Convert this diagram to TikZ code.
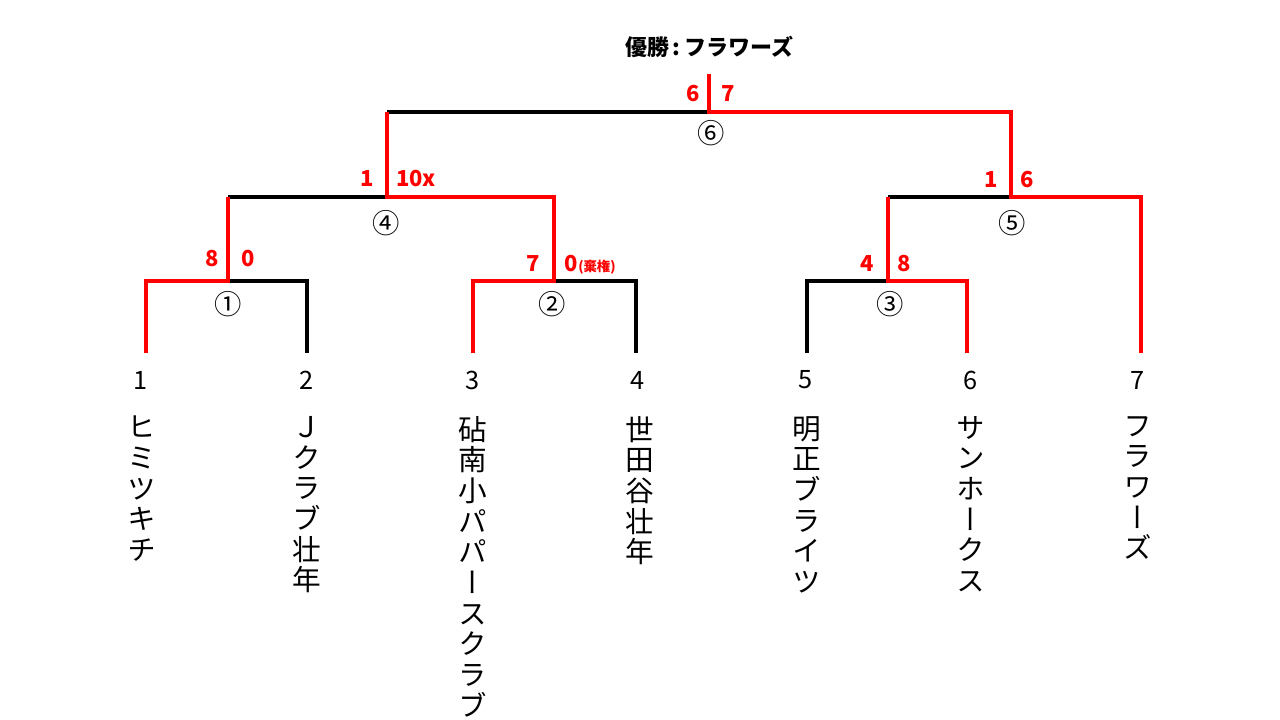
\documentclass[tikz,border=0pt]{standalone}
\usepackage{fontspec}
\newfontfamily\jp{Noto Sans CJK JP}
\newfontfamily\jpv[RawFeature=+vert]{Noto Sans CJK JP}
\begin{document}
\begin{tikzpicture}[x=0.75pt,y=-0.75pt,
  lose/.style={draw=black, line width=2.4pt},
  win/.style={draw=red, line width=2.7pt},
  score/.style={text=red, inner sep=0, font=\jp\bfseries\fontsize{16.5}{16.5}\selectfont},
  small/.style={text=red, inner sep=0, font=\jp\bfseries\fontsize{10}{10}\selectfont},
  circ/.style={inner sep=0, font=\jp\fontsize{20.5}{20.5}\selectfont},
  seed/.style={inner sep=0, font=\jp\fontsize{19}{19}\selectfont},
  team/.style={inner sep=0, anchor=north, align=center, font=\jpv\fontsize{21.5}{23}\selectfont},
  title/.style={inner sep=0, font=\jp\bfseries\fontsize{16.5}{16.5}\selectfont}]
\useasboundingbox (0,0) rectangle (1280,720);
% leaves and match points
\coordinate (t1) at (146,353);
\coordinate (t2) at (307,353);
\coordinate (t3) at (473,353);
\coordinate (t4) at (636,353);
\coordinate (t5) at (807,353);
\coordinate (t6) at (967,353);
\coordinate (t7) at (1141,353);
\coordinate (m1) at (228,281);
\coordinate (m2) at (554,281);
\coordinate (m3) at (888,281);
\coordinate (m4) at (387,197);
\coordinate (m5) at (1011,197);
\coordinate (m6) at (709,112);
\coordinate (top) at (709,74);
% losing lines
\draw[lose] (m1) -| (t2);
\draw[lose] (m2) -| (t4);
\draw[lose] (m3) -| (t5);
\draw[lose] (m1 |- m4) -- (m4);
\draw[lose] (m5) -- (m3 |- m5);
\draw[lose] (m4 |- m6) -- (m6);
% winning lines
\draw[win] (t1) |- (m1) -- (m1 |- m4);
\draw[win] (t3) |- (m2) |- (m4) -- (m4 |- m6);
\draw[win] (t6) |- (m3) -- (m3 |- m5);
\draw[win] (t7) |- (m5) |- (m6) -- (top);
% scores
\node[score] (s1a) at (212,259) {8};
\node[score] (s1b) at (248,259) {0};
\node[score] (s2a) at (533,264) {7};
\node[score] (s2b) at (571,264) {0};
\node[small, anchor=west] (s2c) at (578,267) {(棄権)};
\node[score] (s3a) at (867,264) {4};
\node[score] (s3b) at (904,264) {8};
\node[score] (s4a) at (367,179) {1};
\node[score] (s4b) at (416,179) {10x};
\node[score] (s5a) at (991,180) {1};
\node[score] (s5b) at (1027,180) {6};
\node[score] (s6a) at (693,94) {6};
\node[score] (s6b) at (728,94) {7};
% match numbers
\node[circ] (c1) at (228,304) {①};
\node[circ] (c2) at (552,304) {②};
\node[circ] (c3) at (890,304) {③};
\node[circ] (c4) at (386,223) {④};
\node[circ] (c5) at (1012,223) {⑤};
\node[circ] (c6) at (711,133) {⑥};
% title
\node[title] (ttl) at (709,47) {優勝\,:\,フラワーズ};
% seeds
\node[seed] (n1) at (141,380) {1};
\node[seed] (n2) at (307,380) {2};
\node[seed] (n3) at (473,380) {3};
\node[seed] (n4) at (638,380) {4};
\node[seed] (n5) at (806,380) {5};
\node[seed] (n6) at (971,380) {6};
\node[seed] (n7) at (1138,380) {7};
% team names
\node[team] (a1) at (142,416) {ヒ\\ミ\\ツ\\キ\\チ};
\node[team] (a2) at (307,416) {Ｊ\\ク\\ラ\\ブ\\壮\\年};
\node[team] (a3) at (473,416) {砧\\南\\小\\パ\\パ\\ー\\ス\\ク\\ラ\\ブ};
\node[team] (a4) at (640,416) {世\\田\\谷\\壮\\年};
\node[team] (a5) at (807,416) {明\\正\\ブ\\ラ\\イ\\ツ};
\node[team] (a6) at (971,416) {サ\\ン\\ホ\\ー\\ク\\ス};
\node[team] (a7) at (1138,416) {フ\\ラ\\ワ\\ー\\ズ};
\end{tikzpicture}
\end{document}
